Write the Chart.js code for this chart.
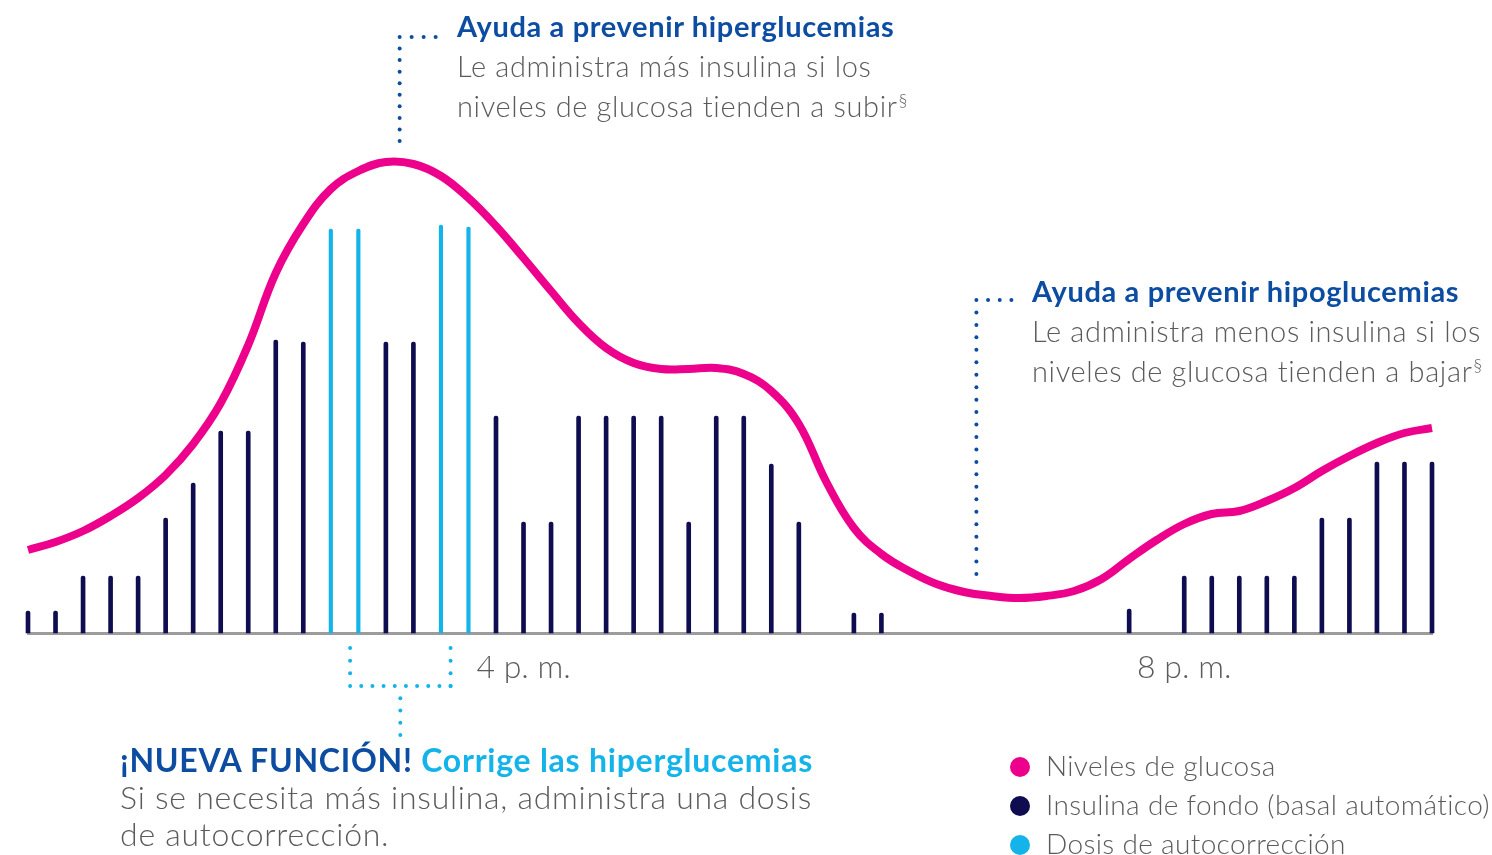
<!DOCTYPE html>
<html lang="es">
<head>
<meta charset="utf-8">
<script src="https://cdn.jsdelivr.net/npm/chart.js@4.4.1/dist/chart.umd.min.js"></script>
<style>
  html, body { margin: 0; padding: 0; background: #ffffff; }
  #wrap { position: relative; width: 1492px; height: 855px; overflow: hidden; font-family: Lato, "Open Sans", sans-serif; }
  #chart { position: absolute; left: 0; top: 0; }
  .note { position: absolute; white-space: nowrap; color: #5b5b5b; font-weight: 300; }
  .note .ttl { font-weight: 700; color: #0c4da2; }
  .note .lt { color: #14b4ea; }
  .note sup { font-size: 0.6em; vertical-align: 0; position: relative; top: -0.6em; margin-left: 1px; }
  #legend { position: absolute; left: 1010px; top: 746px; font-size: 28px; letter-spacing: 0.35px; color: #5b5b5b; font-weight: 300; }
  #legend div { height: 39px; line-height: 39px; white-space: nowrap; }
  #legend i { display: inline-block; width: 20px; height: 20px; border-radius: 50%; vertical-align: middle; margin-right: 16px; position: relative; top: -2px; }
</style>
</head>
<body>
<div id="wrap">
  <canvas id="chart" width="1492" height="855"></canvas>
  <div class="note" id="n1" style="left:457px; top:6px; font-size:29px; line-height:40px; letter-spacing:0.65px;">
    <div class="ttl">Ayuda a prevenir hiperglucemias</div>
    <div>Le administra más insulina si los</div>
    <div>niveles de glucosa tienden a subir<sup>§</sup></div>
  </div>
  <div class="note" id="n2" style="left:1032px; top:271px; font-size:29px; line-height:40px; letter-spacing:0.65px;">
    <div class="ttl">Ayuda a prevenir hipoglucemias</div>
    <div>Le administra menos insulina si los</div>
    <div>niveles de glucosa tienden a bajar<sup>§</sup></div>
  </div>
  <div class="note" id="n3" style="left:120px; top:741px; font-size:32px; line-height:37px; letter-spacing:0.75px;">
    <div class="ttl">¡NUEVA FUNCIÓN! <span class="lt">Corrige las hiperglucemias</span></div>
    <div>Si se necesita más insulina, administra una dosis</div>
    <div>de autocorrección.</div>
  </div>
  <div id="legend"></div>
</div>
<script>
// ---- data ----
const slotCount = 52;                       // evenly spaced time slots along the axis
const tickSlots = [18, 42];                 // slots carrying a time label
const tickLabels = ['4 p. m.', '8 p. m.'];

const glucose = [16.6, 18.2, 20.4, 23.4, 27.0, 31.6, 37.8, 46.0, 57.6, 72.0,
                 81.8, 88.8, 92.4, 94.2, 93.8, 91.4, 87.0, 81.4, 75.0, 68.4,
                 62.0, 57.0, 54.0, 52.8, 52.8, 53.0, 51.8, 48.4, 41.8, 30.2,
                 21.0, 15.8, 12.4, 9.8, 8.2, 7.4, 7.0, 7.4, 8.4, 10.8,
                 14.8, 18.6, 21.8, 23.8, 24.4, 26.4, 29.0, 32.4, 35.4, 38.0,
                 40.0, 41.0];

const basal = [4.4, 4.4, 11.4, 11.4, 11.4, 23.0, 30.0, 40.4, 40.4, 58.6,
               58.2, null, null, 58.2, 58.2, null, null, 43.4, 22.2, 22.2,
               43.4, 43.4, 43.4, 43.4, 22.2, 43.4, 43.4, 33.8, 22.2, null,
               4.0, 4.0, null, null, null, null, null, null, null, null,
               4.8, null, 11.4, 11.4, 11.4, 11.4, 11.4, 23.0, 23.0, 34.2,
               34.2, 34.2];

const correction = [null, null, null, null, null, null, null, null, null, null,
                    null, 80.8, 80.8, null, null, 81.6, 81.2, null, null, null,
                    null, null, null, null, null, null, null, null, null, null,
                    null, null, null, null, null, null, null, null, null, null,
                    null, null, null, null, null, null, null, null, null, null,
                    null, null];

const seriesNames = ['Niveles de glucosa', 'Insulina de fondo (basal automático)', 'Dosis de autocorrección'];
const colors = { glucose: '#ec008c', basal: '#100c50', correction: '#14b4ea', title: '#0c4da2', text: '#5b5b5b', axis: '#9c9c9c' };

// ---- chart ----
const slots = Array.from({ length: slotCount }, (_, i) => String(i));

function dots(ctx, x1, y1, x2, y2, step, color, skipFirst) {
  const len = Math.hypot(x2 - x1, y2 - y1);
  const n = Math.max(1, Math.round(len / step));
  ctx.fillStyle = color;
  for (let k = skipFirst ? 1 : 0; k <= n; k++) {
    const t = k / n;
    ctx.beginPath();
    ctx.arc(x1 + (x2 - x1) * t, y1 + (y2 - y1) * t, 2, 0, Math.PI * 2);
    ctx.fill();
  }
}

const calloutPlugin = {
  id: 'callouts',
  afterDraw(chart) {
    const ctx = chart.ctx;
    const x = chart.scales.x;
    ctx.save();
    // hyperglycaemia callout (at the glucose peak)
    const px = x.getPixelForValue(13.5);
    dots(ctx, px, 37, px + 36, 37, 12, colors.title);
    dots(ctx, px, 37, px, 141, 12.2, colors.title, true);
    // hypoglycaemia callout
    const qx = x.getPixelForValue(34.45);
    dots(ctx, qx, 300, qx + 35, 300, 11.7, colors.title);
    dots(ctx, qx, 300, qx, 574, 12.4, colors.title, true);
    // correction bracket under the light-blue doses
    const a = x.getPixelForValue(11.7), b = x.getPixelForValue(15.35), m = (a + b) / 2;
    dots(ctx, a, 648, a, 686, 12.5, colors.correction);
    dots(ctx, b, 648, b, 686, 12.5, colors.correction);
    dots(ctx, a, 686, b, 686, 11.2, colors.correction, true);
    dots(ctx, m, 686, m, 735, 12.2, colors.correction, true);
    ctx.restore();
  }
};

const chart = new Chart(document.getElementById('chart'), {
  data: {
    labels: slots,
    datasets: [
      {
        type: 'line', label: seriesNames[0], data: glucose,
        borderColor: colors.glucose, backgroundColor: colors.glucose,
        borderWidth: 8, pointRadius: 0, tension: 0.4,
        borderCapStyle: 'butt', fill: false, clip: false, order: 0
      },
      {
        type: 'bar', label: seriesNames[1], data: basal,
        backgroundColor: colors.basal, barThickness: 4, grouped: false,
        borderRadius: { topLeft: 2, topRight: 2 }, borderSkipped: 'start', clip: false, order: 1
      },
      {
        type: 'bar', label: seriesNames[2], data: correction,
        backgroundColor: colors.correction, barThickness: 3.5, grouped: false,
        borderRadius: { topLeft: 2, topRight: 2 }, borderSkipped: 'start', clip: false, order: 1
      }
    ]
  },
  options: {
    responsive: false,
    animation: false,
    layout: { padding: { left: 28, right: 60, top: 133, bottom: 172 } },
    plugins: { legend: { display: false }, tooltip: { enabled: false } },
    scales: {
      x: {
        type: 'category', offset: false,
        grid: { display: false, drawTicks: false },
        border: { display: true, color: colors.axis, width: 3 },
        afterFit(scale) { scale.height = 50; },
        ticks: {
          autoSkip: false, maxRotation: 0, minRotation: 0, padding: 15,
          color: colors.text, font: { family: 'Lato', size: 32, weight: '300' },
          callback(value, index) {
            const k = tickSlots.indexOf(index);
            return k >= 0 ? tickLabels[k] : '';
          }
        }
      },
      y: { display: false, min: 0, max: 100 }
    }
  },
  plugins: [calloutPlugin]
});

// legend built from the chart's datasets
const legend = document.getElementById('legend');
chart.data.datasets.forEach(ds => {
  const row = document.createElement('div');
  const dot = document.createElement('i');
  dot.style.background = ds.type === 'line' ? ds.borderColor : ds.backgroundColor;
  row.appendChild(dot);
  row.appendChild(document.createTextNode(ds.label));
  legend.appendChild(row);
});
</script>
</body>
</html>
